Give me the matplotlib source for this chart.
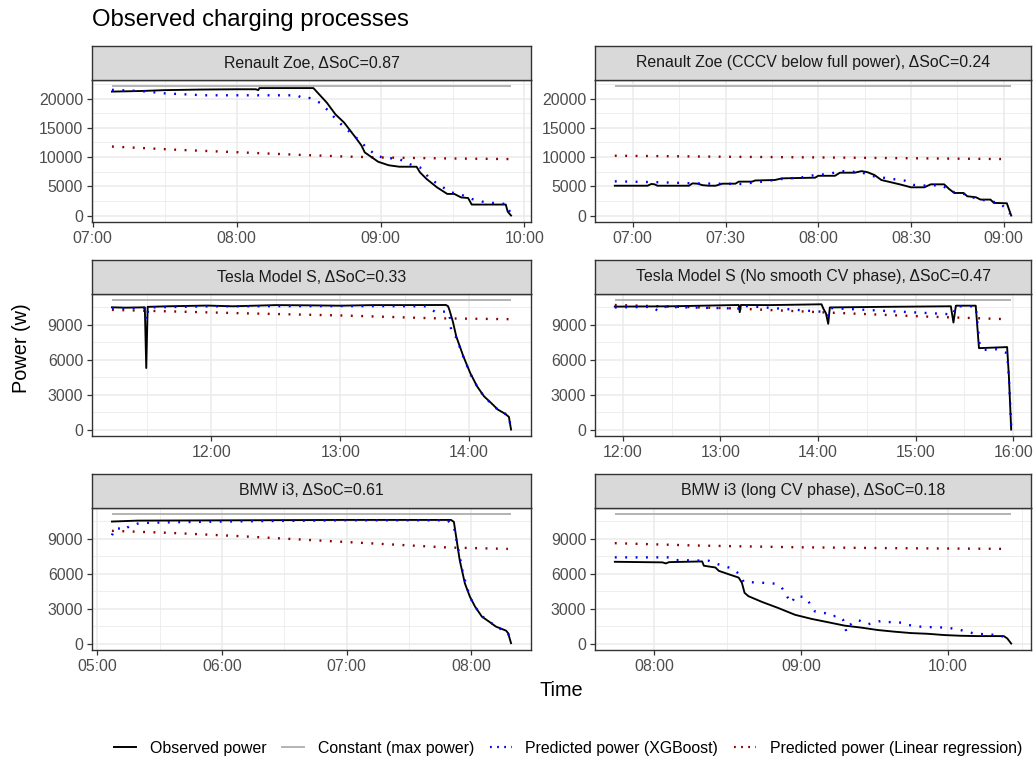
import matplotlib
matplotlib.use("Agg")
import matplotlib.pyplot as plt
import matplotlib.dates as mdates
from matplotlib.lines import Line2D
from matplotlib.ticker import MultipleLocator, FuncFormatter
import pandas as pd

plt.rcParams['font.family'] = ['Liberation Sans', 'DejaVu Sans']

# ---------------- data ----------------
panel_titles = [
    "Renault Zoe, ΔSoC=0.87",
    "Renault Zoe (CCCV below full power), ΔSoC=0.24",
    "Tesla Model S, ΔSoC=0.33",
    "Tesla Model S (No smooth CV phase), ΔSoC=0.47",
    "BMW i3, ΔSoC=0.61",
    "BMW i3 (long CV phase), ΔSoC=0.18",
]
max_power = [22080, 22080, 11100, 11100, 11100, 11100]

# Panel 1: Renault Zoe
zoe1_obs_t = ["07:08", "07:20", "07:30", "07:45", "08:00", "08:08", "08:09", "08:09:30",
              "08:20", "08:30:24", "08:32", "08:37:36", "08:41:12", "08:44:48", "08:49:06",
              "08:52", "08:53:24", "08:59", "09:03:24", "09:07:48", "09:15", "09:16:24",
              "09:19:12", "09:23:30", "09:27:48", "09:30:42", "09:33:36", "09:36:30",
              "09:38", "09:52:12", "09:53", "09:54:24"]
zoe1_obs_p = [21200, 21300, 21450, 21550, 21600, 21600, 21450, 21800,
              21800, 21800, 21800, 19300, 17300, 15900, 13600,
              12000, 10800, 9200, 8600, 8350, 8350, 7400,
              6250, 4830, 3700, 3700, 3100, 3000,
              1880, 1880, 680, 0]
zoe1_xgb_t = ["07:08", "07:20", "07:30", "07:40", "07:46", "08:25", "08:27:36", "08:30:24",
              "08:34:42", "08:38:18", "08:42", "08:46:12", "08:50:30", "08:54:48", "08:59",
              "09:03:24", "09:07:48", "09:12", "09:16:24", "09:20:42", "09:25", "09:29:18",
              "09:33:36", "09:38", "09:42:12", "09:48", "09:52:12", "09:54:24"]
zoe1_xgb_p = [21500, 21300, 20900, 20700, 20570, 20570, 20100, 20100,
              19300, 17900, 16200, 14650, 13070, 11360, 10100,
              9830, 9660, 8800, 8240, 6250, 5100, 3980,
              3580, 2840, 2390, 2100, 1990, 280]
zoe1_lin_t = ["07:08", "07:35", "08:02", "08:25", "08:45", "08:59", "09:25", "09:54"]
zoe1_lin_p = [11800, 11250, 10800, 10400, 10100, 9940, 9780, 9660]

# Panel 2: Renault Zoe (CCCV below full power)
zoe2_obs_t = ["06:54:12", "07:04:48", "07:06", "07:07", "07:08", "07:18:12", "07:19:18",
              "07:21", "07:22:30", "07:24:36", "07:26:48", "07:29", "07:33:12", "07:34:18",
              "07:38:36", "07:39:36", "07:46", "07:48:12", "07:59", "08:00", "08:05:24",
              "08:07", "08:11:48", "08:14", "08:16", "08:18:12", "08:20:24", "08:23:36",
              "08:26:48", "08:30", "08:34:18", "08:36:24", "08:40:42", "08:42:18", "08:44",
              "08:47", "08:48:12", "08:51", "08:52:30", "08:55:42", "08:56:48", "09:01",
              "09:02:24"]
zoe2_obs_p = [5100, 5100, 5400, 5350, 5100, 5100, 5500,
              5450, 5200, 5100, 5100, 5450, 5450, 5800,
              5800, 6000, 6080, 6360, 6480, 6800, 6800,
              7330, 7330, 7600, 7400, 6930, 6080, 5680,
              5280, 4830, 4830, 5340, 5340, 4550, 3860,
              3860, 3300, 3125, 2730, 2730, 2160, 2100,
              0]
zoe2_xgb_t = ["06:54:12", "06:59", "07:09:36", "07:20:24", "07:26:48", "07:35:24", "07:41:48",
              "07:48:12", "07:54:36", "07:59", "08:03:12", "08:07:30", "08:14", "08:17",
              "08:22:30", "08:28", "08:31", "08:35:24", "08:39:36", "08:44", "08:47",
              "08:51:24", "08:55:42", "08:59", "09:02"]
zoe2_xgb_p = [5850, 5800, 5680, 5500, 5450, 5400, 5800,
              6250, 6530, 6930, 7100, 7600, 7400, 6800,
              6360, 5970, 5230, 5100, 5230, 3980, 3700,
              2840, 2440, 2100, 280]
zoe2_lin_t = ["06:54:12", "07:30", "08:00", "08:30", "09:01"]
zoe2_lin_p = [10230, 10060, 9940, 9800, 9660]

# Panel 3: Tesla Model S
tes1_obs_t = ["11:13:42", "11:20", "11:29", "11:29:40", "11:30:20", "11:40", "11:58", "12:10",
              "12:30", "12:45", "13:00", "13:15", "13:30", "13:49:12", "13:50:12", "13:50:48",
              "13:52:24", "13:54", "13:57:18", "14:00:30", "14:03:42", "14:06:54", "14:10:12",
              "14:13:24", "14:16:36", "14:18:30", "14:19:30"]
tes1_obs_p = [10510, 10480, 10510, 5290, 10550, 10600, 10660, 10600,
              10700, 10680, 10650, 10700, 10700, 10710, 10600, 10290,
              9290, 8000, 6290, 4860, 3710, 2860, 2290,
              1710, 1370, 1090, 0]
tes1_xgb_t = ["11:13:42", "11:28:54", "11:29:42", "11:30:48", "12:00", "13:00", "13:40",
              "13:44", "13:49:12", "13:50:48", "13:51:36", "13:54", "13:57:18", "14:00:30",
              "14:03:42", "14:06:54", "14:10:12", "14:13:24", "14:16:36", "14:18:30",
              "14:19:30"]
tes1_xgb_p = [10430, 10450, 9430, 10500, 10600, 10620, 10600,
              10140, 10140, 10000, 8570, 7900, 6250, 4800,
              3700, 2850, 2250, 1700, 1380, 1100,
              50]
tes1_lin_t = ["11:13:42", "11:45", "12:14", "13:02:24", "13:42:42", "14:19"]
tes1_lin_p = [10290, 10140, 10000, 9800, 9570, 9490]

# Panel 4: Tesla Model S (No smooth CV phase)
tes2_obs_t = ["11:55:06", "12:30", "13:11:18", "13:11:54", "13:12:36", "13:30", "14:02:12",
              "14:03:18", "14:04:54", "14:06:18", "14:07:18", "14:40", "15:21:42", "15:23:18",
              "15:24:48", "15:37", "15:39", "15:56:18", "15:57:24", "15:58:48"]
tes2_obs_p = [10570, 10600, 10710, 10090, 10710, 10700, 10770,
              10400, 10000, 9090, 10500, 10550, 10600, 9200,
              10650, 10650, 7000, 7090, 4570, 0]
tes2_xgb_t = ["11:55:06", "12:18", "12:21:24", "12:25", "13:11:54", "13:13", "14:04:54",
              "14:06:18", "14:07:18", "15:23:18", "15:24:30", "15:37", "15:39:30", "15:42",
              "15:50", "15:56:18", "15:57:24", "15:58:48"]
tes2_xgb_p = [10500, 10550, 10230, 10550, 10400, 10650, 10100,
              9800, 10450, 9900, 10600, 10600, 7200, 6850,
              6900, 6570, 4500, 300]
tes2_lin_t = ["11:55:06", "13:05:12", "14:06:18", "15:07:24", "15:56:18"]
tes2_lin_p = [10710, 10430, 10060, 9710, 9490]

# Panel 5: BMW i3
bmw1_obs_t = ["05:07:06", "05:19:24", "06:09:06", "06:58:48", "07:50:12", "07:51:36",
              "07:52:42", "07:54:24", "07:56:54", "07:59:18", "08:01:48", "08:05:06",
              "08:08:30", "08:11:48", "08:16:42", "08:17:42", "08:19:06"]
bmw1_obs_p = [10490, 10570, 10600, 10630, 10630, 10460,
              9170, 7170, 5170, 4030, 3170, 2310,
              1890, 1460, 1110, 890, 30]
bmw1_xgb_t = ["05:07:06", "05:08:36", "05:11:06", "05:12:48", "05:16:06", "05:19:24",
              "05:22:42", "05:36", "06:09:06", "06:58:48", "07:48:36", "07:51:36",
              "07:53:30", "07:56", "07:59:18", "08:01:48", "08:05:06", "08:11:48",
              "08:17:42", "08:19:06"]
bmw1_xgb_p = [9310, 9890, 9890, 9750, 10170, 10310,
              10370, 10430, 10510, 10600, 10600, 10030,
              8310, 6000, 4000, 3170, 2350, 1480,
              900, 50]
bmw1_lin_t = ["05:07:06", "05:36", "06:09", "06:58:48", "07:48:36", "08:17:36"]
bmw1_lin_p = [9690, 9510, 9230, 8740, 8260, 8140]

# Panel 6: BMW i3 (long CV phase)
bmw2_obs_t = ["07:44:06", "08:03:30", "08:04:54", "08:06:12", "08:19:42", "08:20:24",
              "08:25:06", "08:26:30", "08:30:30", "08:34:36", "08:35:54", "08:37",
              "08:38:36", "08:44:06", "08:50:48", "08:57:36", "09:04:18", "09:11:06",
              "09:17:48", "09:24:36", "09:31:24", "09:38:06", "09:44:54", "09:51:36",
              "09:58:24", "10:05:06", "10:11:54", "10:22:42", "10:24:06", "10:25:42"]
bmw2_obs_p = [7030, 6980, 6890, 7000, 7060, 6690,
              6540, 6250, 5960, 5670, 5230, 4360,
              4070, 3580, 3050, 2470, 2120, 1830,
              1540, 1370, 1160, 1020, 900, 840,
              730, 670, 640, 640, 440, 0]
bmw2_xgb_t = ["07:44:06", "08:06:12", "08:08:54", "08:22:24", "08:25:06", "08:30:30",
              "08:33:12", "08:35:18", "08:36:36", "08:44:06", "08:49:30", "08:52:12",
              "08:54:12", "08:56:12", "08:57:36", "09:01:36", "09:03", "09:05:42",
              "09:09:42", "09:12:24", "09:15:06", "09:17:12", "09:18:30", "09:19:54",
              "09:23:12", "09:27:18", "09:32:42", "09:35:24", "09:40:48", "09:43:30",
              "09:48:54", "09:54:18", "09:59:42", "10:05:06", "10:10:30", "10:15:54",
              "10:21:24", "10:24:42"]
bmw2_xgb_p = [7410, 7410, 7180, 7120, 6890, 6540,
              6250, 5900, 5300, 5230, 5150, 4800,
              4070, 3490, 4070, 4000, 3630, 2760,
              2620, 2330, 2400, 2030, 1020, 1600,
              2030, 1660, 1950, 1850, 1800, 1600,
              1450, 1400, 1370, 1160, 870, 780,
              730, 145]
bmw2_lin_t = ["07:44:06", "08:17", "08:57:36", "09:38:06", "10:24:06"]
bmw2_lin_p = [8630, 8430, 8280, 8200, 8140]

obs_t = [zoe1_obs_t, zoe2_obs_t, tes1_obs_t, tes2_obs_t, bmw1_obs_t, bmw2_obs_t]
obs_p = [zoe1_obs_p, zoe2_obs_p, tes1_obs_p, tes2_obs_p, bmw1_obs_p, bmw2_obs_p]
xgb_t = [zoe1_xgb_t, zoe2_xgb_t, tes1_xgb_t, tes2_xgb_t, bmw1_xgb_t, bmw2_xgb_t]
xgb_p = [zoe1_xgb_p, zoe2_xgb_p, tes1_xgb_p, tes2_xgb_p, bmw1_xgb_p, bmw2_xgb_p]
lin_t = [zoe1_lin_t, zoe2_lin_t, tes1_lin_t, tes2_lin_t, bmw1_lin_t, bmw2_lin_t]
lin_p = [zoe1_lin_p, zoe2_lin_p, tes1_lin_p, tes2_lin_p, bmw1_lin_p, bmw2_lin_p]

legend_labels = ["Observed power", "Constant (max power)",
                 "Predicted power (XGBoost)", "Predicted power (Linear regression)"]


def to_time(lst):
    out = []
    for s in lst:
        if len(s) == 5:
            s = s + ":00"
        out.append("2021-01-01 " + s)
    return pd.to_datetime(out, format="%Y-%m-%d %H:%M:%S")


# ---------------- style ----------------
W, H = 1036, 760
fig = plt.figure(figsize=(W / 100, H / 100), dpi=100)

C_OBS = "black"
C_CONST = "#B3B3B3"
C_XGB = "#0000FF"
C_LIN = "#8B0000"
DOT = (0, (0.8, 3.6))
BORDER = "#333333"
GRID = "#EBEBEB"
TICKTXT = "#4D4D4D"
FS_TICK = 11.4


def rect(x0, y0, x1, y1):
    return [x0 / W, 1 - y1 / H, (x1 - x0) / W, (y1 - y0) / H]


cols = [(92, 531), (595, 1031)]
strip_tops = [46, 260, 474]
STRIP_H = 34
PANEL_H = 142

for i in range(6):
    r, c = divmod(i, 2)
    x0, x1 = cols[c]
    st = strip_tops[r]
    ax = fig.add_axes(rect(x0, st + STRIP_H, x1, st + STRIP_H + PANEL_H))
    sax = fig.add_axes(rect(x0, st, x1, st + STRIP_H))

    to = to_time(obs_t[i])
    tx = to_time(xgb_t[i])
    tl = to_time(lin_t[i])
    tmin = min(to.min(), tx.min(), tl.min())
    tmax = max(to.max(), tx.max(), tl.max())

    ax.plot([tmin, tmax], [max_power[i], max_power[i]], color=C_CONST, lw=1.4,
            solid_capstyle="butt", zorder=3)
    ax.plot(tl, lin_p[i], color=C_LIN, lw=1.7, linestyle=DOT, zorder=4)
    ax.plot(to, obs_p[i], color=C_OBS, lw=1.35, zorder=5)
    ax.plot(tx, xgb_p[i], color=C_XGB, lw=1.7, linestyle=DOT, zorder=6)

    # scales (ggplot-like 5% expansion)
    span = tmax - tmin
    ax.set_xlim(tmin - span * 0.05, tmax + span * 0.05)
    ymax = max_power[i]
    ax.set_ylim(-0.05 * ymax, ymax * 1.05)

    if i == 1:
        ax.xaxis.set_major_locator(mdates.MinuteLocator(byminute=[0, 30]))
        ax.xaxis.set_minor_locator(mdates.MinuteLocator(byminute=[15, 45]))
    else:
        ax.xaxis.set_major_locator(mdates.HourLocator())
        ax.xaxis.set_minor_locator(mdates.MinuteLocator(byminute=[30]))
    ax.xaxis.set_major_formatter(mdates.DateFormatter("%H:%M"))

    if ymax > 15000:
        ax.yaxis.set_major_locator(MultipleLocator(5000))
        ax.yaxis.set_minor_locator(MultipleLocator(2500))
    else:
        ax.yaxis.set_major_locator(MultipleLocator(3000))
        ax.yaxis.set_minor_locator(MultipleLocator(1500))
    ax.yaxis.set_major_formatter(FuncFormatter(lambda v, p: f"{int(round(v))}"))

    ax.set_axisbelow(True)
    ax.grid(which="major", color=GRID, lw=1.1, zorder=0)
    ax.grid(which="minor", color=GRID, lw=0.6, zorder=0)
    ax.tick_params(which="major", direction="out", length=3.8, width=0.9,
                   color=BORDER, labelcolor=TICKTXT, labelsize=FS_TICK, pad=2.5)
    ax.tick_params(which="minor", length=0)
    for sp in ax.spines.values():
        sp.set_color(BORDER)
        sp.set_linewidth(1.0)

    sax.set_facecolor("#D9D9D9")
    sax.set_xticks([])
    sax.set_yticks([])
    for sp in sax.spines.values():
        sp.set_color(BORDER)
        sp.set_linewidth(1.0)
    sax.text(0.5, 0.5, panel_titles[i], ha="center", va="center",
             fontsize=FS_TICK, color="#1A1A1A", transform=sax.transAxes)

fig.text(92 / W, 1 - 20 / H, "Observed charging processes", fontsize=17.2,
         ha="left", va="center", color="black")
fig.text(22 / W, 1 - 348 / H, "Power (w)", fontsize=14.3, rotation=90,
         ha="center", va="center", color="black")
fig.text(561 / W, 1 - 691 / H, "Time", fontsize=14.3, ha="center", va="center",
         color="black")

handles = [
    Line2D([], [], color=C_OBS, lw=1.4),
    Line2D([], [], color=C_CONST, lw=1.4),
    Line2D([], [], color=C_XGB, lw=1.6, linestyle=(0, (0.8, 2.4))),
    Line2D([], [], color=C_LIN, lw=1.6, linestyle=(0, (0.8, 2.4))),
]
fig.legend(handles, legend_labels, loc="center", bbox_to_anchor=(568 / W, 1 - 748 / H),
           ncol=4, frameon=False, fontsize=FS_TICK, handlelength=1.4,
           handletextpad=0.85, columnspacing=1.0, borderaxespad=0, borderpad=0)

fig.savefig("out.png", dpi=100)
